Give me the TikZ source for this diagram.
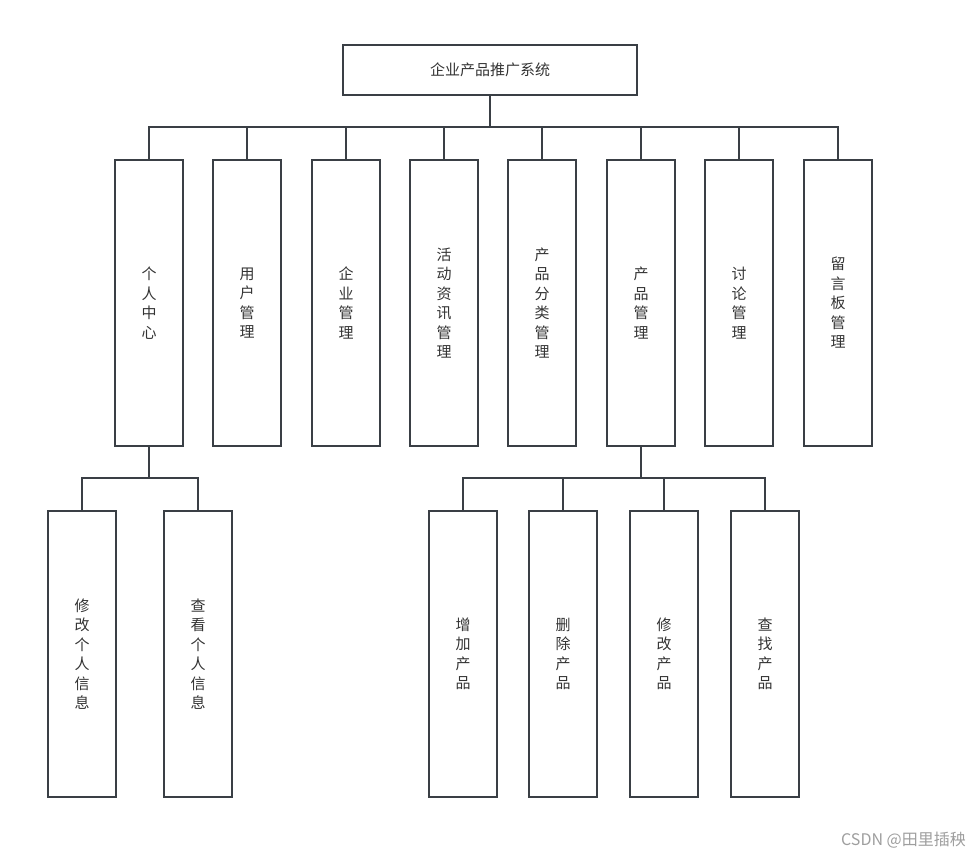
\documentclass[tikz,border=0pt]{standalone}
\usepackage{fontspec}
\setmainfont{Noto Sans CJK SC}
\definecolor{linec}{HTML}{3A3F45}
\definecolor{textc}{HTML}{333333}
\tikzset{
  box/.style={draw=linec, line width=1.5pt, minimum width=68pt, minimum height=286pt, inner sep=0pt, text=textc, align=center, font=\fontsize{15pt}{19.5pt}\selectfont},
  topbox/.style={draw=linec, line width=1.5pt, minimum width=294pt, minimum height=50pt, inner sep=0pt, text=textc, font=\fontsize{15pt}{19.5pt}\selectfont},
  conn/.style={draw=linec, line width=1.5pt}
}
\begin{document}
\begin{tikzpicture}[x=1pt,y=-1pt]
\useasboundingbox (0,0) rectangle (980,859);
\node[topbox] (root) at (490,70) {企业产品推广系统};
\node[box] (a1) at (149,303) {个\\人\\中\\心};
\node[box] (a2) at (247,303) {用\\户\\管\\理};
\node[box] (a3) at (346,303) {企\\业\\管\\理};
\node[box] (a4) at (444,303) {活\\动\\资\\讯\\管\\理};
\node[box] (a5) at (542,303) {产\\品\\分\\类\\管\\理};
\node[box] (a6) at (641,303) {产\\品\\管\\理};
\node[box] (a7) at (739,303) {讨\\论\\管\\理};
\node[box] (a8) at (838,303) {留\\言\\板\\管\\理};
\node[box] (b1) at (82,654) {修\\改\\个\\人\\信\\息};
\node[box] (b2) at (198,654) {查\\看\\个\\人\\信\\息};
\node[box] (c1) at (463,654) {增\\加\\产\\品};
\node[box] (c2) at (563,654) {删\\除\\产\\品};
\node[box] (c3) at (664,654) {修\\改\\产\\品};
\node[box] (c4) at (765,654) {查\\找\\产\\品};
\coordinate (bus1) at (490,127);
\coordinate (bus2) at (149,478);
\coordinate (bus3) at (641,478);
\draw[conn] (root.south) -- (bus1);
\foreach \n in {a1,a2,a3,a4,a5,a6,a7,a8}
  \draw[conn] (\n.north) |- (bus1);
\draw[conn] (a1.south) -- (bus2);
\foreach \n in {b1,b2}
  \draw[conn] (\n.north) |- (bus2);
\draw[conn] (a6.south) -- (bus3);
\foreach \n in {c1,c2,c3,c4}
  \draw[conn] (\n.north) |- (bus3);
\node[text=black!38, font=\fontsize{16pt}{18pt}\selectfont, anchor=east, inner sep=0pt] (wm) at (966,840) {CSDN @田里插秧};
\end{tikzpicture}
\end{document}
